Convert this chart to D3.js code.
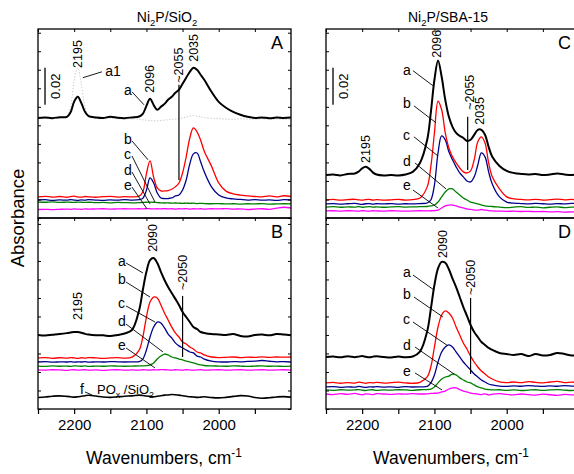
<!DOCTYPE html>
<html>
<head>
<meta charset="utf-8">
<title>CO on Ni2P - IR spectra</title>
<script src="https://d3js.org/d3.v7.min.js"></script>
<style>
  body { margin: 0; background: #fff; }
  text { font-family: "Liberation Sans", Arial, sans-serif; fill: #000; }
</style>
</head>
<body>
<div id="chart"></div>
<script>
// wavenumber grid (cm-1), shared by every spectrum
const wn = [2250,2240,2230,2220,2210,2205,2200,2195,2190,2185,2180,2170,2160,2150,2140,2130,2120,2110,2105,2100,
            2095,2090,2085,2080,2075,2070,2065,2060,2055,2050,2045,2040,2035,2030,2025,2020,2010,2000,1990,1980,
            1970,1960,1950,1940,1930,1920,1910,1900];

// absorbance, in units of 0.001 (offset spectra as drawn)
// panel A : Ni2P/SiO2
const A_a1 = [53.6,53.8,53.5,54.0,55.0,60.0,74.0,81.0,72.0,60.0,55.0,53.8,53.5,53.8,53.6,53.4,53.5,53.3,53.0,52.8,
              52.6,52.5,52.4,52.6,52.8,53.0,53.2,53.4,53.6,54.0,54.5,55.0,55.3,55.0,54.6,54.2,53.8,53.6,53.4,53.3,
              53.5,53.4,53.2,53.5,53.3,53.4,53.2,53.5];
const A_a = [54.0,54.2,53.9,54.4,54.6,57.0,62.8,65.4,62.0,57.3,55.0,54.3,54.0,54.6,54.1,53.9,54.3,54.8,56.2,60.5,
             64.3,61.0,58.4,60.0,61.6,63.8,65.4,67.6,69.2,72.4,75.7,78.9,81.1,80.0,77.3,74.6,68.1,62.7,59.5,57.3,
             55.7,54.6,54.0,54.3,53.8,54.2,54.0,54.2];
const A_b = [11.4,11.7,11.3,11.6,11.2,11.5,11.8,11.4,11.3,11.6,11.4,11.2,11.5,11.7,11.3,11.5,11.4,11.8,14.0,24.0,
             30.8,22.0,16.2,14.6,14.6,14.8,15.5,16.8,18.9,24.3,33.0,43.2,48.6,46.5,42.0,36.0,28.0,19.0,14.5,13.0,
             12.4,11.9,11.6,11.4,11.9,11.4,12.0,11.6];
const A_c = [9.7,9.9,9.5,9.8,9.6,9.9,9.7,9.5,9.8,9.6,9.9,9.7,9.5,9.8,9.6,9.9,9.7,9.9,10.6,15.0,
             21.6,18.9,13.5,10.8,10.5,10.5,10.8,11.9,12.4,15.1,20.5,29.2,34.6,35.1,30.3,24.9,16.8,12.4,10.8,10.3,
             10.0,9.7,9.9,9.6,9.8,9.5,9.9,9.7];
const A_d = [8.6,8.5,8.7,8.4,8.6,8.5,8.4,8.6,8.5,8.4,8.5,8.3,8.4,8.2,8.4,8.3,8.2,8.3,8.4,8.5,
             8.6,8.5,8.3,8.2,8.1,8.2,8.0,8.1,8.0,7.9,8.0,7.9,8.0,7.8,7.9,7.8,7.7,7.8,7.6,7.7,
             7.5,7.7,7.6,7.8,7.5,7.6,7.7,7.6];
const A_e = [4.6,4.7,4.5,4.7,4.8,4.7,4.9,4.8,4.7,4.9,4.8,4.9,5.0,4.8,4.9,5.0,4.9,5.0,4.9,5.1,
             5.0,4.9,5.0,4.9,5.1,4.9,5.0,4.8,5.0,4.9,5.1,4.8,5.0,4.9,5.0,4.8,5.0,4.9,5.1,4.8,
             4.9,4.6,4.8,5.0,4.7,5.3,5.8,5.4];

// panel B : Ni2P/SiO2 (second set) and POx/SiO2
const B_a = [40.0,39.7,40.1,40.5,41.0,41.3,41.6,41.6,41.2,40.6,40.2,39.8,39.8,39.4,40.0,40.8,42.7,53.5,64.3,74.1,
             80.5,81.6,78.9,74.1,69.7,65.9,62.7,59.5,56.2,52.4,49.7,47.0,44.3,43.2,41.6,41.1,40.5,40.3,40.0,40.5,
             39.5,39.2,40.0,40.2,39.8,40.5,40.2,39.8];
const B_b = [27.6,27.8,27.4,27.7,27.5,27.8,27.6,27.4,27.7,27.5,27.8,27.6,27.3,27.6,27.8,27.5,28.0,31.9,38.9,49.7,
             57.8,60.5,60.0,56.2,51.9,48.1,44.3,41.1,38.9,36.2,35.1,33.5,32.4,30.8,30.3,29.2,28.1,27.8,27.9,28.1,
             27.8,28.0,27.9,28.2,27.9,28.1,28.0,28.1];
const B_c = [25.4,25.6,25.3,25.5,25.4,25.6,25.3,25.5,25.4,25.6,25.3,25.5,25.4,25.6,25.5,25.4,25.5,25.6,27.0,31.9,
             38.9,44.3,47.0,46.5,43.8,40.5,38.4,35.7,34.1,33.0,31.9,30.8,30.3,28.6,28.1,27.0,25.9,25.5,25.4,25.6,
             25.5,25.7,25.9,26.2,25.8,25.5,25.6,25.4];
const B_d = [23.2,23.0,23.3,23.1,23.2,23.0,23.3,23.2,23.1,23.3,23.0,23.2,23.1,23.3,23.2,23.1,23.2,23.3,23.3,23.4,
             23.8,24.9,27.0,28.6,29.7,29.2,28.1,27.6,27.0,26.5,25.9,25.4,24.9,24.3,23.8,23.5,23.3,23.2,23.1,23.3,
             23.2,23.0,23.2,23.3,23.1,23.2,23.0,23.2];
const B_e = [21.1,21.0,21.2,21.1,20.9,21.1,21.2,21.0,21.1,21.2,21.0,21.1,20.9,21.1,21.2,21.0,21.1,21.0,21.2,21.1,
             21.0,21.2,21.1,21.3,21.2,21.1,21.0,21.2,21.1,21.0,21.2,21.1,21.0,21.1,21.2,21.0,21.1,21.2,21.0,21.1,
             21.2,21.0,21.1,21.2,21.0,21.1,21.2,21.0];
const B_f = [6.2,6.5,6.9,7.1,6.8,6.6,6.4,6.6,6.9,7.2,7.4,7.0,6.5,6.3,6.6,6.9,7.1,7.5,7.3,7.0,
             6.8,6.6,6.9,7.2,7.5,7.6,7.8,7.7,7.5,7.2,6.9,6.6,6.5,6.3,6.4,6.6,6.2,6.0,6.3,6.8,
             7.2,7.0,6.2,5.8,6.1,6.5,6.7,6.4];

// panel C : Ni2P/SBA-15
const C_a = [23.2,23.5,23.0,23.8,24.0,25.0,26.8,27.6,26.5,24.5,23.5,23.0,23.2,23.0,23.5,24.9,29.7,42.2,56.8,74.6,
             85.0,76.2,63.8,54.6,49.2,45.9,44.3,43.2,41.6,42.2,44.9,47.6,47.6,44.9,38.4,33.0,28.1,25.4,24.3,23.8,
             23.5,23.8,23.2,23.5,24.0,23.5,23.2,23.8];
const C_b = [9.7,10.0,9.6,9.9,10.1,9.8,9.6,9.9,10.0,9.7,9.9,9.6,9.8,10.0,9.7,9.9,10.8,16.8,27.6,45.9,
             63.0,58.4,45.9,37.8,33.0,29.7,27.0,24.9,24.3,25.4,31.4,41.1,43.8,40.5,29.7,22.2,15.7,11.4,10.3,10.0,
             9.8,10.1,9.7,9.9,10.2,9.8,10.0,9.7];
const C_c = [7.6,7.8,7.5,7.7,7.9,7.6,7.4,7.7,7.8,7.5,7.7,7.6,7.8,7.5,7.7,7.6,7.8,8.1,9.7,17.8,
             35.1,44.3,42.2,35.7,31.4,27.6,24.3,22.2,20.0,19.5,22.2,28.6,35.1,33.0,24.9,18.4,11.4,8.6,8.0,7.8,
             7.6,7.9,7.7,7.5,7.8,7.6,7.9,7.7];
const C_d = [5.9,6.1,5.8,6.0,5.9,6.1,5.8,6.0,6.1,5.9,6.0,5.8,6.0,6.1,5.9,6.0,6.1,6.2,6.5,7.0,
             8.6,11.4,14.0,15.7,15.7,14.0,12.4,10.8,9.7,8.6,8.1,7.6,7.0,6.5,6.3,6.2,5.9,5.6,5.9,6.1,
             5.7,5.9,5.5,5.8,6.0,5.6,5.9,5.7];
const C_e = [3.8,3.9,3.7,3.9,3.8,3.7,3.9,3.8,3.7,3.9,3.8,3.7,3.9,3.8,3.7,3.8,3.9,3.8,3.9,4.0,
             4.3,5.4,6.5,7.0,7.0,6.5,5.9,5.4,4.9,4.6,4.3,4.3,4.6,4.3,4.0,3.8,3.7,3.6,3.7,3.5,
             3.6,3.4,3.5,3.3,3.4,3.2,3.3,3.2];

// panel D : Ni2P/SBA-15 (second set)
const D_a = [28.1,28.4,27.9,28.5,28.0,28.3,28.6,28.2,27.9,28.3,28.5,28.1,27.8,28.3,28.0,28.4,31.0,42.0,54.0,67.0,
             76.0,79.5,79.0,75.5,70.5,65.9,60.5,55.1,50.3,45.4,41.6,38.9,36.2,34.6,33.0,31.9,30.3,29.7,29.2,29.7,
             28.6,29.7,28.9,29.2,30.3,29.7,28.9,29.2];
const D_b = [14.1,14.4,13.9,14.3,14.0,14.5,14.2,13.9,14.3,14.1,14.4,14.0,14.2,14.5,14.1,13.9,14.4,17.3,22.7,33.5,
             44.3,50.8,53.0,51.9,49.2,44.3,40.0,35.7,32.4,28.6,25.4,22.7,20.5,18.9,17.3,16.2,14.6,14.3,14.6,14.2,
             14.8,14.4,14.1,14.6,14.9,14.3,14.5,14.2];
const D_c = [11.9,12.1,11.7,12.0,11.8,12.2,11.9,11.7,12.0,11.9,12.1,11.8,12.0,11.7,12.1,11.9,12.0,12.2,14.1,18.4,
             25.4,30.8,33.5,34.6,33.5,30.8,28.1,25.4,23.2,21.1,18.9,17.3,15.7,14.6,13.5,13.0,12.4,12.2,12.5,12.3,
             12.6,12.4,12.2,12.5,12.3,12.6,12.4,12.3];
const D_d = [10.3,10.1,10.4,10.2,10.3,10.5,10.2,10.0,10.3,10.4,10.1,10.3,10.2,10.4,10.3,10.1,10.4,10.5,10.8,11.9,
             14.1,16.2,17.3,17.8,18.9,18.4,16.8,15.7,14.6,14.1,13.0,11.9,11.4,10.8,10.5,10.3,10.4,10.1,10.3,10.0,
             10.2,10.4,10.1,10.3,10.5,10.2,10.0,10.3];
const D_e = [8.1,7.8,8.3,7.9,8.4,8.0,7.7,8.2,8.0,7.8,8.3,8.1,7.9,8.2,8.0,8.3,8.1,8.2,8.4,8.5,
             8.6,9.2,9.7,10.8,11.4,11.4,10.5,9.7,9.2,8.6,8.3,8.1,7.8,8.2,7.6,8.0,8.3,7.9,7.6,8.1,
             7.8,7.5,8.0,7.7,7.4,7.9,7.6,7.8];

const xTicks = [2250, 2200, 2150, 2100, 2050, 2000, 1950];
const xLabels = [2200, 2100, 2000];

const styles = {
    a1: {color: "#c4c4c4", width: 1, dash: "1.2,1.8"},
    a:  {color: "#000000", width: 2},
    b:  {color: "#ff0000", width: 1.3},
    c:  {color: "#00008b", width: 1.3},
    d:  {color: "#008000", width: 1.3},
    e:  {color: "#ff00ff", width: 1.3},
    f:  {color: "#000000", width: 1.6}
};

const panels = [
    {name: "A", col: 0, top: 29, bottom: 218, ymax: 102,
     series: [["a1", A_a1], ["e", A_e], ["d", A_d], ["c", A_c], ["b", A_b], ["a", A_a]],
     peaks: [[2195, 81, "2195"], [2096, 67.6, "2096"], [2055, 73, "~2055"], [2035, 84.3, "2035"]],
     vlines: [[2055, 20.5, 71.9]],
     labels: [["a1", 2157, 76.8, 2188, 75.7, 2161.5, 78.9],
              ["a", 2131, 66.5, 2120, 68.1, 2103.4, 61.1],
              ["b", 2131, 40.0, 2120, 41.6, 2097.8, 31.4],
              ["c", 2131, 31.9, 2120, 33.5, 2088.2, 8.6],
              ["d", 2131, 23.2, 2120, 24.8, 2095.1, 7.6],
              ["e", 2131, 15.1, 2120, 16.7, 2099.2, 4.9]],
     bar: [2240.3, 61.1, 81.1]},
    {name: "B", col: 0, top: 218, bottom: 409, ymax: 103.2,
     series: [["f", B_f], ["e", B_e], ["d", B_d], ["c", B_c], ["b", B_b], ["a", B_a]],
     peaks: [[2195, 48.1, "2195"], [2092, 84.9, "2090"], [2050, 64.3, "~2050"]],
     vlines: [[2050, 28.1, 61.1]],
     labels: [["a", 2139.3, 77.3, 2128.3, 78.9, 2104.8, 73.5],
              ["b", 2139.3, 67.6, 2128.3, 68.6, 2095, 60.5],
              ["c", 2139.3, 54.6, 2128.3, 55.7, 2088.2, 47],
              ["d", 2139.3, 44.9, 2128.3, 45.9, 2077.1, 30.8],
              ["e", 2139.3, 31.9, 2128.3, 33, 2088.2, 22.2],
              ["f", 2191.9, 8.1, 2185, 9.2, 2175.3, 7.6]],
     po: [2168.4, 8.1]},
    {name: "C", col: 1, top: 29, bottom: 218, ymax: 102,
     series: [["e", C_e], ["d", C_d], ["c", C_c], ["b", C_b], ["a", C_a]],
     peaks: [[2195, 29.7, "2195"], [2096.5, 86.5, "2096"], [2052, 58.4, "~2055"], [2037, 50.3, "2035"]],
     vlines: [[2054, 25.9, 54.6]],
     labels: [["a", 2143.5, 77.3, 2129.7, 79.5, 2102, 71.4],
              ["b", 2143.5, 59.5, 2128.3, 60.5, 2097.8, 51.4],
              ["c", 2143.5, 42.2, 2128.3, 43.8, 2095.1, 33.5],
              ["d", 2143.5, 28.1, 2126.9, 29.7, 2084, 15.7],
              ["e", 2143.5, 15.1, 2129.7, 15.1, 2095.1, 5.4]],
     bar: [2240.3, 61.1, 81.1]},
    {name: "D", col: 1, top: 218, bottom: 409, ymax: 103.2,
     series: [["e", D_e], ["d", D_d], ["c", D_c], ["b", D_b], ["a", D_a]],
     peaks: [[2088, 81.6, "2090"], [2050, 61.6, "~2050"]],
     vlines: [[2050, 18.9, 60]],
     labels: [["a", 2143.5, 71.4, 2129.7, 72.4, 2100.6, 64.3],
              ["b", 2143.5, 59.5, 2128.3, 60.5, 2088.2, 49.7],
              ["c", 2143.5, 45.9, 2129.7, 47, 2081.2, 34.1],
              ["d", 2143.5, 31.9, 2126.9, 33.5, 2072.9, 18.9],
              ["e", 2143.5, 17.8, 2126.9, 19.5, 2089.5, 10.3]]}
];

const cols = [
    {x0: 38, x1: 291, title: [["Ni", 0], ["2", 1], ["P/SiO", 0], ["2", 1]], tx: 167, lx: 164},
    {x0: 326, x1: 579, title: [["Ni", 0], ["2", 1], ["P/SBA-15", 0]], tx: 448, lx: 451}
];

const svg = d3.select("#chart").append("svg")
    .attr("width", 574).attr("height", 474);

// text with sub (1) / super (2) parts
function richText(sel, parts, size) {
    let shift = 0;
    parts.forEach(function(p) {
        let target = p[1] === 1 ? 4 : (p[1] === 2 ? -7 : 0);
        sel.append("tspan")
            .attr("dy", target - shift)
            .attr("font-size", p[1] ? size * 0.68 : size)
            .text(p[0]);
        shift = target;
    });
}

cols.forEach(function(c) {
    let t = svg.append("text")
        .attr("x", c.tx).attr("y", 22)
        .attr("text-anchor", "middle")
        .attr("font-size", 14);
    richText(t, c.title, 14);

    let lab = svg.append("text")
        .attr("x", c.lx).attr("y", 464)
        .attr("text-anchor", "middle")
        .attr("font-size", 17.5);
    richText(lab, [["Wavenumbers, cm", 0], ["-1", 2]], 17.5);
});

svg.append("text")
    .attr("transform", "translate(24,218) rotate(-90)")
    .attr("text-anchor", "middle")
    .attr("font-size", 18.5)
    .text("Absorbance");

const line = d3.line().curve(d3.curveCatmullRom);

panels.forEach(function(p, i) {
    let c = cols[p.col];
    let x = d3.scaleLinear().domain([2250, 1900]).range([c.x0, c.x1]);
    let y = d3.scaleLinear().domain([0, p.ymax]).range([p.bottom, p.top]);
    let g = svg.append("g");

    svg.append("clipPath").attr("id", "clip" + i)
        .append("rect")
        .attr("x", c.x0).attr("y", p.top)
        .attr("width", c.x1 - c.x0).attr("height", p.bottom - p.top);

    let plot = g.append("g").attr("clip-path", "url(#clip" + i + ")");

    p.series.forEach(function(s) {
        let st = styles[s[0]];
        let pts = wn.map(function(w, k) { return [x(w), y(s[1][k])]; });
        plot.append("path")
            .attr("d", line(pts))
            .attr("fill", "none")
            .attr("stroke", st.color)
            .attr("stroke-width", st.width)
            .attr("stroke-dasharray", st.dash || null)
            .attr("stroke-linejoin", "round");
    });

    // y ticks, inward on both sides
    g.append("g")
        .attr("transform", "translate(" + c.x0 + ",0)")
        .call(d3.axisLeft(y).ticks(10).tickSize(-3).tickFormat("").tickSizeOuter(0))
        .call(function(a) { a.select(".domain").remove(); });
    g.append("g")
        .attr("transform", "translate(" + c.x1 + ",0)")
        .call(d3.axisRight(y).ticks(10).tickSize(-3).tickFormat("").tickSizeOuter(0))
        .call(function(a) { a.select(".domain").remove(); });
    // top ticks, inward
    g.append("g")
        .attr("transform", "translate(0," + p.top + ")")
        .call(d3.axisTop(x).tickValues(xTicks).tickSize(-3).tickFormat("").tickSizeOuter(0))
        .call(function(a) { a.select(".domain").remove(); });

    if (p.top > 100) {
        let ax = g.append("g")
            .attr("transform", "translate(0," + p.bottom + ")")
            .call(d3.axisBottom(x).tickValues(xTicks).tickSize(5).tickPadding(5).tickSizeOuter(0)
                .tickFormat(function(d) { return xLabels.indexOf(d) >= 0 ? d : ""; }));
        ax.select(".domain").remove();
        ax.selectAll("text").attr("font-size", 15).attr("font-family", null);
        ax.selectAll("line").attr("stroke-width", 1.2);
    }

    g.append("rect")
        .attr("x", c.x0).attr("y", p.top)
        .attr("width", c.x1 - c.x0).attr("height", p.bottom - p.top)
        .attr("fill", "none").attr("stroke", "#000").attr("stroke-width", 1.3);

    // peak positions, rotated
    p.peaks.forEach(function(k) {
        g.append("text")
            .attr("transform", "translate(" + x(k[0]) + "," + y(k[1]) + ") rotate(-90)")
            .attr("dy", "0.35em")
            .attr("font-size", 12.5)
            .text(k[2]);
    });

    p.vlines.forEach(function(v) {
        g.append("line")
            .attr("x1", x(v[0])).attr("x2", x(v[0]))
            .attr("y1", y(v[1])).attr("y2", y(v[2]))
            .attr("stroke", "#000").attr("stroke-width", 1.2);
    });

    p.labels.forEach(function(l) {
        g.append("text")
            .attr("x", x(l[1])).attr("y", y(l[2]))
            .attr("font-size", 14)
            .text(l[0]);
        g.append("line")
            .attr("x1", x(l[3])).attr("y1", y(l[4]))
            .attr("x2", x(l[5])).attr("y2", y(l[6]))
            .attr("stroke", "#000").attr("stroke-width", 0.9);
    });

    if (p.bar) {
        g.append("line")
            .attr("x1", x(p.bar[0])).attr("x2", x(p.bar[0]))
            .attr("y1", y(p.bar[1])).attr("y2", y(p.bar[2]))
            .attr("stroke", "#000").attr("stroke-width", 1.3);
        g.append("text")
            .attr("transform", "translate(" + (x(p.bar[0]) + 10) + "," + y((p.bar[1] + p.bar[2]) / 2) + ") rotate(-90)")
            .attr("text-anchor", "middle").attr("dy", "0.35em")
            .attr("font-size", 13)
            .text("0.02");
    }

    if (p.po) {
        let t = g.append("text")
            .attr("x", x(p.po[0])).attr("y", y(p.po[1]))
            .attr("font-size", 13);
        richText(t, [["PO", 0], ["x", 1], [" /SiO", 0], ["2", 1]], 13);
    }

    g.append("text")
        .attr("x", c.x1 - 8).attr("y", p.top + 20)
        .attr("text-anchor", "end")
        .attr("font-size", 18)
        .text(p.name);
});
</script>
</body>
</html>
